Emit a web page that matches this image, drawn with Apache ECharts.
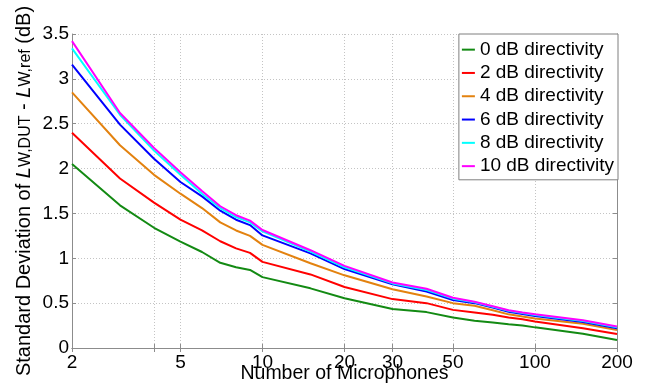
<!DOCTYPE html>
<html>
<head>
<meta charset="utf-8">
<script src="https://cdn.jsdelivr.net/npm/echarts@6/dist/echarts.min.js"></script>
<style>html,body{margin:0;padding:0;background:#fff;}#c{width:646px;height:385px;}</style>
</head>
<body>
<div id="c"></div>
<script>
const microphones = [2,3,4,5,6,7,8,9,10,15,20,30,40,50,60,70,80,90,100,150,200];
const dir0  = [2.05,1.59,1.34,1.185,1.07,0.95,0.90,0.87,0.79,0.665,0.555,0.435,0.40,0.34,0.305,0.285,0.265,0.25,0.23,0.16,0.09];
const dir2  = [2.40,1.89,1.62,1.43,1.31,1.19,1.11,1.06,0.96,0.82,0.68,0.545,0.50,0.425,0.395,0.37,0.34,0.32,0.295,0.22,0.155];
const dir4  = [2.85,2.26,1.93,1.72,1.56,1.40,1.31,1.25,1.15,0.945,0.81,0.655,0.575,0.50,0.47,0.42,0.375,0.35,0.33,0.27,0.20];
const dir6  = [3.16,2.49,2.11,1.85,1.69,1.53,1.43,1.37,1.255,1.055,0.88,0.71,0.63,0.535,0.50,0.45,0.405,0.38,0.357,0.29,0.22];
const dir8  = [3.34,2.60,2.20,1.93,1.72,1.56,1.46,1.40,1.30,1.075,0.90,0.72,0.645,0.55,0.51,0.46,0.415,0.39,0.367,0.30,0.23];
const dir10 = [3.42,2.62,2.23,1.96,1.75,1.58,1.48,1.42,1.315,1.09,0.915,0.73,0.66,0.56,0.515,0.465,0.42,0.395,0.375,0.31,0.24];
const seriesNames = ['0 dB directivity','2 dB directivity','4 dB directivity','6 dB directivity','8 dB directivity','10 dB directivity'];
const seriesValues = [dir0, dir2, dir4, dir6, dir8, dir10];
const colors = ['#138a13','#ff0000','#e3820f','#0000ff','#00ffff','#ff00ff'];
const xTickLabels = [2,5,10,20,30,50,100,200];
const xGridValues = [2,4,5,10,20,30,50,100,200];

const FONT = '"Liberation Sans", Arial, sans-serif';
const axisColor = '#8c8c8c';
const chart = echarts.init(document.getElementById('c'), null, {renderer:'canvas'});
const series = seriesNames.map((n,i)=>({
  name:n, type:'line', showSymbol:false, symbol:'none',
  data: microphones.map((m,j)=>[m, seriesValues[i][j]]),
  lineStyle:{width:2, color:colors[i]}, itemStyle:{color:colors[i]}, z: 2+i
}));
chart.setOption({
  animation:false,
  textStyle:{fontFamily:FONT},
  grid:{left:72, right:29, top:34, bottom:37, outerBoundsMode:'none', containLabel:false},
  legend:{
    orient:'vertical', right:28, top:34,
    backgroundColor:'#fff', borderColor:'#7f7f7f', borderWidth:1,
    padding:[6,4,4,3], itemGap:4, itemWidth:13, itemHeight:2,
    icon:'rect',
    textStyle:{fontFamily:FONT, fontSize:19, color:'#000', lineHeight:19.3},
    data: seriesNames
  },
  xAxis:[{
    type:'log', logBase:10, min:2, max:200,
    name:'Number of Microphones', nameLocation:'middle', nameGap:16, nameMoveOverlap:false,
    nameTextStyle:{fontFamily:FONT, fontSize:19.5, color:'#000'},
    axisLine:{lineStyle:{color:axisColor}},
    axisTick:{inside:true, length:4, lineStyle:{color:axisColor}, customValues:xGridValues},
    axisLabel:{customValues:xTickLabels, fontFamily:FONT, fontSize:19, color:'#000', margin:5},
    splitLine:{show:true, lineStyle:{type:[1,2], color:'#c4c4c4'}},
    minorTick:{show:false}
  },{
    type:'log', logBase:10, min:2, max:200, position:'top',
    axisLine:{show:true, lineStyle:{color:axisColor}},
    axisTick:{inside:true, length:4, lineStyle:{color:axisColor}, customValues:xGridValues},
    axisLabel:{show:false}, splitLine:{show:false}
  }],
  yAxis:[{
    type:'value', min:0, max:3.5, interval:0.5,
    name:'Standard Deviation of {i|L}{s|W,DUT}{n| - }{i|L}{s|W,ref}{n| (dB)}',
    nameLocation:'middle', nameGap:38, nameRotate:90, nameMoveOverlap:false,
    nameTextStyle:{fontFamily:FONT, fontSize:20, color:'#000', lineHeight:20, verticalAlign:'bottom',
      rich:{
        i:{fontFamily:FONT, fontSize:20, fontStyle:'italic', color:'#000', lineHeight:20, verticalAlign:'top'},
        n:{fontFamily:FONT, fontSize:20, color:'#000', lineHeight:20, verticalAlign:'top'},
        s:{fontFamily:FONT, fontSize:16, color:'#000', lineHeight:16, verticalAlign:'bottom', padding:[13,0,0,0]}
      }},
    axisLine:{show:true, lineStyle:{color:axisColor}},
    axisTick:{show:true, inside:true, length:4, lineStyle:{color:axisColor}},
    axisLabel:{fontFamily:FONT, fontSize:19, color:'#000', margin:3},
    splitLine:{show:true, lineStyle:{type:[1,2], color:'#c4c4c4'}}
  },{
    type:'value', min:0, max:3.5, interval:0.5, position:'right',
    axisLine:{show:true, lineStyle:{color:axisColor}},
    axisTick:{show:true, inside:true, length:4, lineStyle:{color:axisColor}},
    axisLabel:{show:false}, splitLine:{show:false}
  }],
  series: series
});
</script>
</body>
</html>
